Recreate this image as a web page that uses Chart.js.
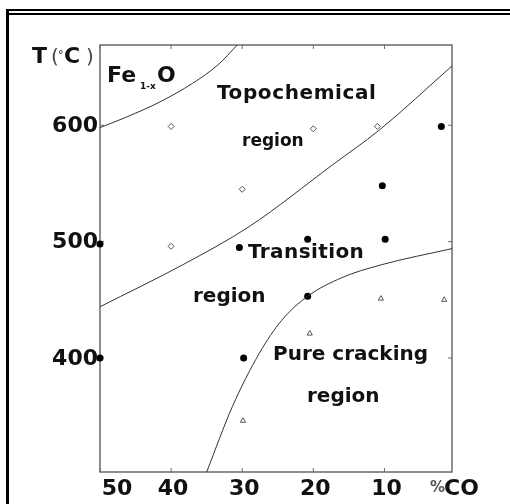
<!DOCTYPE html>
<html>
<head>
<meta charset="utf-8">
<script src="https://cdn.jsdelivr.net/npm/chart.js@4.4.1/dist/chart.umd.min.js"></script>
<style>
  html, body { margin: 0; padding: 0; background: #fff; }
  #wrap { width: 510px; height: 504px; }
</style>
</head>
<body>
<div id="wrap"><canvas id="c" width="510" height="504"></canvas></div>
<script>
// ---- data ----
const xTickValues = [50, 40, 30, 20, 10];
const xTickLabels = ['50', '40', '30', '20', '10'];
const yTickValues = [600, 500, 400];
const yTickLabels = ['600', '500', '400'];

// open diamonds (topochemical region)
const topoCO = [40, 20, 11, 30, 40];
const topoT  = [599, 597, 599, 545, 496];

// filled circles (transition)
const transCO = [2, 10.3, 9.9, 20.8, 30.4, 20.8, 29.8, 50, 50];
const transT  = [599, 548, 502, 502, 495, 453, 400, 498, 400];

// open triangles (pure cracking)
const crackCO = [10.5, 1.6, 20.5, 29.9];
const crackT  = [451, 450, 421, 346];

// boundary curves
const feoCO = [50, 46.3, 41.6, 37.0, 33.4, 30.7];
const feoT  = [598, 607, 620, 636, 652, 669];

const topoBoundCO = [50, 38.4, 29, 17.3, 10.7, 0.5];
const topoBoundT  = [444, 480, 513, 566, 596, 651];

const crackBoundCO = [35.0, 31.4, 27.6, 24.5, 20.8, 16, 10.5, 0.5];
const crackBoundT  = [302, 358, 404, 432, 453, 469, 480, 494];

const xMin = 0.5, xMax = 50, yMin = 302, yMax = 669;

function pts(xs, ys) { return xs.map((x, i) => ({ x: x, y: ys[i] })); }

const FONT = "'DejaVu Sans', sans-serif";
const INK = '#111';

const decor = {
  id: 'decor',
  beforeDraw(chart) {
    const ctx = chart.ctx;
    ctx.save();
    ctx.fillStyle = '#fff';
    ctx.fillRect(0, 0, chart.width, chart.height);
    // page frame (double top line, thick left line)
    ctx.fillStyle = '#000';
    ctx.fillRect(6, 9, 504, 2);
    ctx.fillRect(6, 13, 504, 2);
    ctx.fillRect(6, 9, 3, 495);
    ctx.restore();
  },
  beforeDatasetsDraw(chart) {
    const ctx = chart.ctx, a = chart.chartArea;
    const xs = chart.scales.x, ys = chart.scales.y;
    ctx.save();
    ctx.strokeStyle = '#6a6a6a';
    ctx.lineWidth = 1.5;
    ctx.strokeRect(a.left, a.top, a.right - a.left, a.bottom - a.top);
    ctx.lineWidth = 1;
    ctx.beginPath();
    xTickValues.forEach(v => {
      const px = xs.getPixelForValue(v);
      ctx.moveTo(px, a.bottom); ctx.lineTo(px, a.bottom - 4);
      ctx.moveTo(px, a.top); ctx.lineTo(px, a.top + 4);
    });
    yTickValues.forEach(v => {
      const py = ys.getPixelForValue(v);
      ctx.moveTo(a.left, py); ctx.lineTo(a.left + 4, py);
      ctx.moveTo(a.right, py); ctx.lineTo(a.right - 4, py);
    });
    ctx.stroke();
    ctx.restore();
  },
  afterDraw(chart) {
    const ctx = chart.ctx, a = chart.chartArea;
    const xs = chart.scales.x, ys = chart.scales.y;
    ctx.save();
    ctx.fillStyle = INK;
    // y tick labels
    ctx.font = 'bold 22px ' + FONT;
    ctx.textAlign = 'right';
    ctx.textBaseline = 'middle';
    yTickValues.forEach((v, i) => {
      ctx.fillText(yTickLabels[i], a.left - 2, ys.getPixelForValue(v) + 1);
    });
    // x tick labels
    ctx.textAlign = 'center';
    xTickValues.forEach((v, i) => {
      let px = xs.getPixelForValue(v) + 2;
      if (i === 0) px = a.left + 17;
      ctx.fillText(xTickLabels[i], px, a.bottom + 17);
    });
    // %CO
    ctx.textAlign = 'left';
    ctx.font = 'bold 15px ' + FONT;
    ctx.fillStyle = '#555';
    ctx.fillText('%', a.right - 22, a.bottom + 16);
    ctx.fillStyle = INK;
    ctx.font = 'bold 22px ' + FONT;
    ctx.fillText('CO', a.right - 8, a.bottom + 17);
    // T(°C)
    ctx.textBaseline = 'alphabetic';
    ctx.font = 'bold 22px ' + FONT;
    ctx.fillText('T', 32, 63);
    ctx.font = '20px ' + FONT;
    ctx.fillStyle = '#444';
    ctx.fillText('(', 51, 63);
    ctx.fillText(')', 86, 63);
    ctx.font = 'bold 11px ' + FONT;
    ctx.fillText('°', 58, 58);
    ctx.fillStyle = INK;
    ctx.font = 'bold 22px ' + FONT;
    ctx.fillText('C', 64, 63);
    // region labels
    ctx.font = 'bold 22px ' + FONT;
    ctx.fillText('Fe', 107, 82);
    ctx.font = 'bold 9px ' + FONT;
    ctx.fillText('1-x', 140, 89);
    ctx.font = 'bold 22px ' + FONT;
    ctx.fillText('O', 157, 82);
    ctx.font = 'bold 20px ' + FONT;
    ctx.letterSpacing = '0.6px';
    ctx.fillText('Topochemical', 217, 99);
    ctx.letterSpacing = '0px';
    ctx.font = 'bold 17px ' + FONT;
    ctx.fillText('region', 242, 146);
    ctx.font = 'bold 20px ' + FONT;
    ctx.letterSpacing = '0.4px';
    ctx.fillText('Transition', 248, 258);
    ctx.letterSpacing = '0px';
    ctx.fillText('region', 193, 302);
    ctx.fillText('Pure cracking', 273, 360);
    ctx.fillText('region', 307, 402);
    ctx.restore();
  }
};

const lineStyle = { showLine: true, borderColor: '#333', borderWidth: 1, pointRadius: 0,
  cubicInterpolationMode: 'monotone', fill: false };

new Chart(document.getElementById('c'), {
  type: 'scatter',
  data: {
    datasets: [
      Object.assign({ label: 'FeO boundary', data: pts(feoCO, feoT) }, lineStyle),
      Object.assign({ label: 'Topochemical boundary', data: pts(topoBoundCO, topoBoundT) }, lineStyle),
      Object.assign({ label: 'Cracking boundary', data: pts(crackBoundCO, crackBoundT) }, lineStyle),
      { label: 'Topochemical', data: pts(topoCO, topoT), pointStyle: 'rectRot', pointRadius: 3,
        borderColor: '#555', borderWidth: 1, backgroundColor: '#fff', clip: false },
      { label: 'Transition', data: pts(transCO, transT), pointStyle: 'circle', pointRadius: 3.5,
        borderColor: '#000', borderWidth: 0, backgroundColor: '#000', clip: false },
      { label: 'Pure cracking', data: pts(crackCO, crackT), pointStyle: 'triangle', pointRadius: 3,
        borderColor: '#555', borderWidth: 1, backgroundColor: '#fff', clip: false }
    ]
  },
  options: {
    responsive: false,
    animation: false,
    devicePixelRatio: 1,
    events: [],
    layout: { padding: { left: 100, right: 58, top: 45, bottom: 32 } },
    scales: {
      x: { type: 'linear', min: xMin, max: xMax, reverse: true, display: false },
      y: { type: 'linear', min: yMin, max: yMax, display: false }
    },
    plugins: { legend: { display: false }, tooltip: { enabled: false } }
  },
  plugins: [decor]
});
</script>
</body>
</html>
